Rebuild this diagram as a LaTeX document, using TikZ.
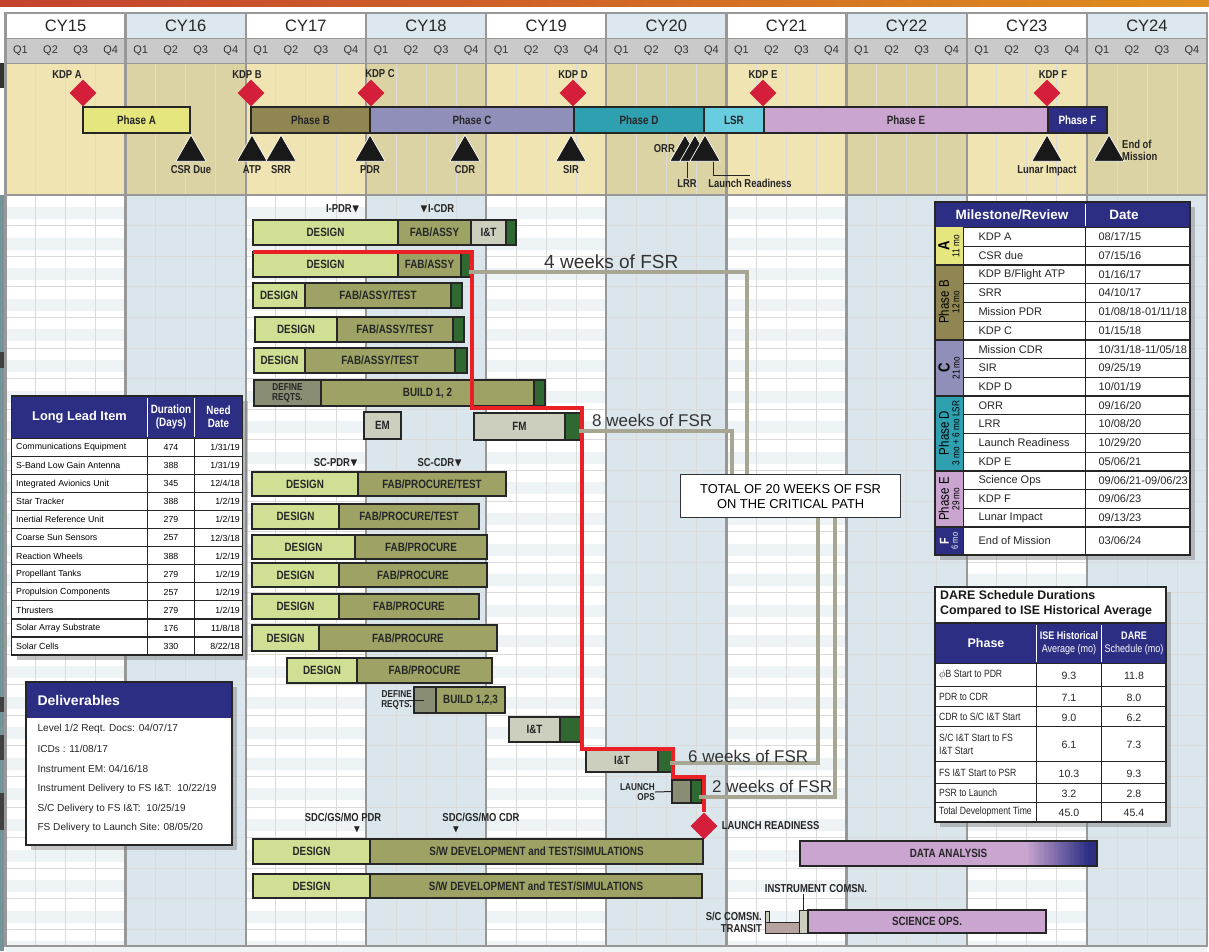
\documentclass[tikz,border=0pt]{standalone}
\usepackage{amssymb}
\usepackage{fontspec}
\setmainfont{Liberation Sans}
\newfontfamily\condfont{Liberation Sans}[FakeStretch=0.82]
\usetikzlibrary{positioning,shapes.geometric,shadows}

\definecolor{navyc}{RGB}{43,46,131}
\definecolor{designc}{RGB}{207,224,148}
\definecolor{fabc}{RGB}{158,162,101}
\definecolor{greenc}{RGB}{47,104,49}
\definecolor{itc}{RGB}{204,206,190}
\definecolor{defc}{RGB}{136,141,116}
\definecolor{lilac}{RGB}{201,165,207}
\definecolor{phasea}{RGB}{229,231,126}
\definecolor{phaseb}{RGB}{143,134,82}
\definecolor{phasec}{RGB}{143,143,185}
\definecolor{phased}{RGB}{46,160,176}
\definecolor{lsrc}{RGB}{104,205,222}
\definecolor{kdpred}{RGB}{212,30,58}
\definecolor{critred}{RGB}{234,32,39}
\definecolor{fsrgray}{RGB}{166,166,147}
\definecolor{yellowlt}{RGB}{240,228,178}
\definecolor{yellowdk}{RGB}{219,211,163}
\definecolor{bluebg}{RGB}{218,229,236}
\definecolor{yearblue}{RGB}{221,231,238}
\definecolor{qgray}{RGB}{202,202,202}
\definecolor{framegray}{RGB}{152,152,152}
\definecolor{transitc}{RGB}{182,162,159}
\definecolor{stripc}{RGB}{116,148,154}
\definecolor{ruleL}{RGB}{196,66,46}
\definecolor{ruleR}{RGB}{222,142,30}

\newcommand\barfont{\condfont\bfseries\fontsize{12}{13}\selectfont}
\newcommand\smallbar{\condfont\bfseries\fontsize{10}{10.5}\selectfont}
\newcommand\tagfont{\condfont\bfseries\fontsize{11.5}{12}\selectfont}
\newcommand\yearfont{\fontsize{16.5}{18}\selectfont}
\newcommand\qfont{\fontsize{11}{12}\selectfont}
\newcommand\cellfont{\fontsize{8.8}{10}\selectfont}
\newcommand\msfont{\fontsize{11}{12}\selectfont}
\newcommand\dlvfont{\fontsize{10.1}{11}\selectfont}
\newcommand\darefont{\condfont\fontsize{10.5}{12.5}\selectfont}

\begin{document}
\begin{tikzpicture}[x=1pt,y=-1pt,
  bar/.style={draw=black!85,line width=1.3pt,inner sep=0pt,outer sep=0pt,
    minimum height=25pt,font=\barfont,text=black!85},
  design/.style={bar,fill=designc,anchor=north west},
  fab/.style={bar,fill=fabc},
  grn/.style={bar,fill=greenc},
  itb/.style={bar,fill=itc},
  defb/.style={bar,fill=defc},
  phase/.style={bar,anchor=north west,minimum height=26pt},
  kdp/.style={diamond,fill=kdpred,minimum size=27pt,inner sep=0pt},
  rev/.style={regular polygon,regular polygon sides=3,fill=black!90,
    draw=white,line width=.7pt,minimum size=35pt,inner sep=0pt},
  tag/.style={font=\tagfont,text=black!85,inner sep=1pt},
  qline/.style={draw=black!14,line width=.8pt},
  yline/.style={draw=framegray,line width=2.4pt},
  tabline/.style={draw=black!85,line width=1.2pt},
  fsr/.style={draw=fsrgray,line width=4pt},
  crit/.style={draw=critred,line width=4pt},
  weeks/.style={font=\fontsize{17}{18}\selectfont,text=black!80,inner sep=0pt,anchor=west},
  cell/.style={font=\cellfont,inner sep=0pt},
  shadowed/.style={fill=white,drop shadow={shadow xshift=5pt,shadow yshift=-5pt,opacity=.45}}
]
\useasboundingbox (0,0) rectangle (1209,951);

% top rule
\shade[left color=ruleL,right color=ruleR] (0,0) rectangle (1209,6);

% calendar
\fill[qgray] (5.5,38) rectangle (1207,63);
\foreach \i [evaluate=\i as \xa using 5.5+120.15*\i] in {0,...,9}{
  \ifodd\i
    \fill[yearblue] (\xa,13) rectangle ++(120.15,25);
    \fill[yellowdk] (\xa,63) rectangle ++(120.15,132);
    \fill[bluebg] (\xa,195) rectangle ++(120.15,751);
  \else
    \fill[white] (\xa,13) rectangle ++(120.15,25);
    \fill[yellowlt] (\xa,63) rectangle ++(120.15,132);
    \fill[white] (\xa,195) rectangle ++(120.15,751);
  \fi
  \node[font=\yearfont,text=black!85] (cy\i) at (\xa+60.07,25.5) {CY\the\numexpr15+\i\relax};
  \foreach \q in {1,...,4}
    \node[font=\qfont,text=black!80] (q\i-\q) at (\xa+30.04*\q-15.02,50.5) {Q\q};
}
\foreach \r in {0,...,24}
  \fill[bluebg,opacity=.45] (5.5,207+30.6*\r) rectangle (1207,219+30.6*\r);
\foreach \k in {1,...,39}
  \draw[qline] (5.5+30.0375*\k,63) -- ++(0,883);
\foreach \r in {1,...,24}
  \draw[qline] (5.5,195+30.6*\r) -- ++(1201.5,0);
\foreach \i in {1,...,9}
  \draw[yline] (5.5+120.15*\i,13) -- ++(0,933);
\draw[framegray,line width=.8pt] (5.5,38) -- (1207,38) (5.5,63) -- (1207,63);
\draw[yline] (5.5,195) -- (1207,195);
\draw[yline] (5.5,13) rectangle (1207,946);

% left edge
\fill[stripc] (0,195) rectangle (4,951);
\fill[black!80] (0,63) rectangle (4,88);
\foreach \a/\b in {352/368,697/712,735/760,793/830}
  \fill[black!75] (0,\a) rectangle (4,\b);

% phases
\node[phase,fill=phasea,minimum width=107pt] (pha) at (83,107) {Phase A};
\node[phase,fill=phaseb,minimum width=119pt] (phb) at (251,107) {Phase B};
\node[phase,fill=phasec,minimum width=204pt,right=0pt of phb] (phc) {Phase C};
\node[phase,fill=phased,minimum width=130pt,right=0pt of phc] (phd) {Phase D};
\node[phase,fill=lsrc,minimum width=60pt,right=0pt of phd] (lsr) {LSR};
\node[phase,fill=lilac,minimum width=284pt,right=0pt of lsr] (phe) {Phase E};
\node[phase,fill=navyc,text=white,minimum width=59pt,right=0pt of phe] (phf) {Phase F};

% key decision points
\foreach \n/\x/\dx in {A/83/-16,B/251/-4,C/371/9,D/573/0,E/763/0,F/1047/6}{
  \node[kdp] (kdp\n) at (\x,93) {};
  \node[tag,above=0pt of kdp\n,xshift=\dx] (kdpl\n) {KDP \n};
}

% reviews
\foreach \n/\x/\t in {csr/191/CSR Due,atp/252/ATP,srr/281/SRR,pdr/370/PDR,
    cdr/465/CDR,sir/571/SIR,lun/1047/Lunar Impact}{
  \node[rev] (t\n) at (\x,152.5) {};
  \node[tag,below=3pt of t\n] (l\n) {\t};
}
\node[rev] (torr) at (685,152.5) {};
\node[rev] (tlrr) at (695,152.5) {};
\node[rev] (tlr) at (705,152.5) {};
\node[tag,anchor=east] (lorr) at (676,149) {ORR};
\node[tag,anchor=north] (llrr) at (687,178) {LRR};
\node[tag,anchor=north] (llr) at (750,178) {Launch Readiness};
\draw[black!85,line width=1pt] (tlrr.south -| llrr.north) -- (llrr.north);
\draw[black!85,line width=1pt] ([xshift=8pt]tlr.south) |- ([yshift=3pt]llr.north);
\node[rev] (teom) at (1109,152.5) {};
\node[tag,align=left,anchor=west] (leom) at (1121,150) {End of\\Mission};

% instrument
\node[tag] (ipdr) at (343,209) {I-PDR$\blacktriangledown$};
\node[tag] (icdr) at (437,209) {$\blacktriangledown$I-CDR};
\node[design,minimum width=145pt] (i1d) at (253,220) {DESIGN};
\node[fab,minimum width=73pt,right=0pt of i1d] (i1f) {FAB/ASSY};
\node[itb,minimum width=35pt,right=0pt of i1f] (i1t) {I\&T};
\node[grn,minimum width=10pt,right=0pt of i1t] (i1g) {};
\node[design,minimum width=145pt] (i2d) at (253,252) {DESIGN};
\node[fab,minimum width=63pt,right=0pt of i2d] (i2f) {FAB/ASSY};
\node[grn,minimum width=11pt,right=0pt of i2f] (i2g) {};
\node[design,minimum width=52pt] (i3d) at (253,283) {DESIGN};
\node[fab,minimum width=146pt,right=0pt of i3d] (i3f) {FAB/ASSY/TEST};
\node[grn,minimum width=11pt,right=0pt of i3f] (i3g) {};
\node[design,minimum width=82pt] (i4d) at (255,317) {DESIGN};
\node[fab,minimum width=116pt,right=0pt of i4d] (i4f) {FAB/ASSY/TEST};
\node[grn,minimum width=11pt,right=0pt of i4f] (i4g) {};
\node[design,minimum width=51pt] (i5d) at (254,348) {DESIGN};
\node[fab,minimum width=150pt,right=0pt of i5d] (i5f) {FAB/ASSY/TEST};
\node[grn,minimum width=12pt,right=0pt of i5f] (i5g) {};
\node[defb,anchor=north west,minimum width=67pt,minimum height=26pt,
  font=\smallbar,align=center] (i6d) at (254,380) {DEFINE\\REQTS.};
\node[fab,minimum width=213pt,minimum height=26pt,right=0pt of i6d] (i6f) {BUILD 1, 2};
\node[grn,minimum width=11pt,minimum height=26pt,right=0pt of i6f] (i6g) {};
\node[itb,anchor=north west,minimum width=37pt,minimum height=27pt] (em) at (364,412) {EM};
\node[itb,anchor=north west,minimum width=91pt,minimum height=27pt] (fm) at (474,413) {FM};
\node[grn,minimum width=17pt,minimum height=27pt,right=0pt of fm] (fmg) {};

% spacecraft
\node[tag] (scpdr) at (336,463) {SC-PDR$\blacktriangledown$};
\node[tag] (sccdr) at (440,463) {SC-CDR$\blacktriangledown$};
\node[design,minimum width=106pt,minimum height=24pt] (s1d) at (252,472) {DESIGN};
\node[fab,minimum width=148pt,minimum height=24pt,right=0pt of s1d] (s1f) {FAB/PROCURE/TEST};
\node[design,minimum width=87pt] (s2d) at (252,504) {DESIGN};
\node[fab,minimum width=140pt,right=0pt of s2d] (s2f) {FAB/PROCURE/TEST};
\node[design,minimum width=103pt,minimum height=24pt] (s3d) at (252,535) {DESIGN};
\node[fab,minimum width=132pt,minimum height=24pt,right=0pt of s3d] (s3f) {FAB/PROCURE};
\node[design,minimum width=87pt,minimum height=24pt] (s4d) at (252,563) {DESIGN};
\node[fab,minimum width=148pt,minimum height=24pt,right=0pt of s4d] (s4f) {FAB/PROCURE};
\node[design,minimum width=87pt] (s5d) at (252,594) {DESIGN};
\node[fab,minimum width=140pt,right=0pt of s5d] (s5f) {FAB/PROCURE};
\node[design,minimum width=67pt,minimum height=26pt] (s6d) at (252,625) {DESIGN};
\node[fab,minimum width=178pt,minimum height=26pt,right=0pt of s6d] (s6f) {FAB/PROCURE};
\node[design,minimum width=70pt] (s7d) at (287,658) {DESIGN};
\node[fab,minimum width=135pt,right=0pt of s7d] (s7f) {FAB/PROCURE};
\node[defb,anchor=north west,minimum width=22pt,minimum height=26pt] (s8d) at (414,687) {};
\node[fab,minimum width=69pt,minimum height=26pt,right=0pt of s8d] (s8f) {BUILD 1,2,3};
\node[font=\smallbar,text=black!85,align=right,anchor=east,inner sep=0pt] (s8l) at (412,700) {DEFINE\\REQTS.};
\draw[black!85,line width=1pt] ([xshift=-6pt]s8d.west) -- ([xshift=10pt]s8d.west);
\node[itb,anchor=north west,minimum width=51pt] (it1) at (509,717) {I\&T};
\node[grn,minimum width=22pt,right=0pt of it1] (itg1) {};
\node[itb,anchor=north west,minimum width=72pt,minimum height=23pt] (it2) at (586,749) {I\&T};
\node[grn,minimum width=15pt,minimum height=23pt,right=0pt of it2] (itg2) {};
\node[defb,anchor=north west,minimum width=19pt,minimum height=23pt] (lop) at (672,780) {};
\node[grn,minimum width=11pt,minimum height=23pt,right=0pt of lop] (lopg) {};
\node[font=\smallbar,text=black!85,align=right,anchor=east,inner sep=0pt] (lopl) at (655,792) {LAUNCH\\OPS};
\draw[black!85,line width=1pt] (lopl.east) -- (lop.west);
\node[kdp] (lr) at (704,826) {};
\node[tag,right=3pt of lr] (lrl) {LAUNCH READINESS};

% ground segment
\node[tag] (gpdr) at (343,817) {SDC/GS/MO PDR};
\node[inner sep=0pt,text=black!85] (gpdrm) at (357,830) {$\blacktriangledown$};
\node[tag] (gcdr) at (481,817) {SDC/GS/MO CDR};
\node[inner sep=0pt,text=black!85] (gcdrm) at (456,830) {$\blacktriangledown$};
\node[design,minimum width=117pt] (g1d) at (253,839) {DESIGN};
\node[fab,minimum width=333pt,right=0pt of g1d] (g1f) {S/W DEVELOPMENT and TEST/SIMULATIONS};
\node[design,minimum width=117pt,minimum height=24pt] (g2d) at (253,874) {DESIGN};
\node[fab,minimum width=332pt,minimum height=24pt,right=0pt of g2d] (g2f) {S/W DEVELOPMENT and TEST/SIMULATIONS};

% operations
\node[bar,fill=lilac,anchor=north west,minimum width=297pt] (da) at (800,841) {DATA ANALYSIS};
\foreach \s in {0,...,25}
  \fill[lilac!\the\numexpr100-4*\s\relax!navyc] (1025+2.5*\s,842) rectangle ++(2.6,23);
\fill[navyc] (1089.5,842) rectangle (1096.5,865);
\draw[black!85,line width=1.3pt] (da.north west) rectangle (da.south east);
\node[tag] (icl) at (816,889) {INSTRUMENT COMSN.};
\node[bar,fill=itc,anchor=north west,minimum width=4pt,minimum height=11pt,line width=1pt] (scc) at (765,911) {};
\node[bar,fill=transitc,anchor=north west,minimum width=34pt,minimum height=11pt,line width=1pt] (tr) at (765,922) {};
\node[bar,fill=itc,anchor=north west,minimum width=9pt,minimum height=23pt,line width=1pt] (ic) at (799,910) {};
\node[bar,fill=lilac,minimum width=238pt,minimum height=23pt,right=0pt of ic] (sops) {SCIENCE OPS.};
\node[tag,anchor=east] (sccl) at (763,916) {S/C COMSN.};
\node[tag,anchor=east] (trl) at (763,929) {TRANSIT};
\draw[black!85,line width=.8pt] (ic.north |- icl.south) -- (ic.north);

% critical path and FSR
\node[draw=black!80,line width=1.2pt,fill=white,align=center,anchor=north west,
  font=\fontsize{12.9}{15}\selectfont,minimum width=220pt,minimum height=43pt]
  (tot) at (680,474) {TOTAL OF 20 WEEKS OF FSR\\ON THE CRITICAL PATH};
\draw[crit] (i2d.north west) -- (i2g.north east) |- ([yshift=5pt]fmg.north east)
  |- (itg2.north east) |- ([yshift=3pt]lopg.north east) -| (lr.north);
\draw[fsr] ([xshift=-3pt,yshift=5pt]i2g.south east) -| ([xshift=67pt]tot.north west);
\draw[fsr] ([xshift=-3pt,yshift=9pt]fmg.south east) -| ([xshift=52pt]tot.north west);
\draw[fsr] ([xshift=-3pt,yshift=9pt]itg2.south east) -| ([xshift=138pt]tot.south west);
\draw[fsr] ([xshift=-3pt,yshift=6pt]lopg.south east) -| ([xshift=155pt]tot.south west);
\node[weeks,font=\fontsize{19}{20}\selectfont] (w4) at (544,262) {4 weeks of FSR};
\node[weeks] (w8) at (592,420) {8 weeks of FSR};
\node[weeks] (w6) at (688,756) {6 weeks of FSR};
\node[weeks] (w2) at (712,786) {2 weeks of FSR};

% long lead items
\path[shadowed] (11.7,396) rectangle (242.7,655);
\fill[navyc] (11.7,396) rectangle (242.7,438.3);
\draw[white,line width=1pt] (147.3,398) -- (147.3,437) (194.3,398) -- (194.3,437);
\node[text=white,font=\bfseries\fontsize{12.8}{14}\selectfont] (llh) at (79.5,417) {Long Lead Item};
\node[text=white,align=center,font=\barfont] (lldh) at (171,417) {Duration\\(Days)};
\node[text=white,align=center,font=\barfont] (llnh) at (218.5,417) {Need\\Date};
\foreach \k/\itm/\dur/\nd in {0/Communications Equipment/474/{1/31/19},
    1/S-Band Low Gain Antenna/388/{1/31/19}, 2/Integrated Avionics Unit/345/{12/4/18},
    3/Star Tracker/388/{1/2/19}, 4/Inertial Reference Unit/279/{1/2/19},
    5/Coarse Sun Sensors/257/{12/3/18}, 6/Reaction Wheels/388/{1/2/19},
    7/Propellant Tanks/279/{1/2/19}, 8/Propulsion Components/257/{1/2/19},
    9/Thrusters/279/{1/2/19}, 10/Solar Array Substrate/176/{11/8/18},
    11/Solar Cells/330/{8/22/18}}{
  \node[cell,anchor=west] (ll\k) at (16,447.6+18.06*\k) {\itm};
  \node[cell] (lld\k) at (171,447.6+18.06*\k) {\dur};
  \node[cell,anchor=east] (lln\k) at (240,447.6+18.06*\k) {\nd};
  \draw[tabline] (11.7,438.3+18.06*\k) -- (242.7,438.3+18.06*\k);
}
\draw[tabline] (147.3,438.3) -- (147.3,655) (194.3,438.3) -- (194.3,655);
\draw[tabline] (11.7,396) rectangle (242.7,655);

% deliverables
\path[shadowed] (26,682) rectangle (232,845);
\fill[navyc] (26,682) rectangle (232,718);
\node[text=white,anchor=west,font=\bfseries\fontsize{14}{15}\selectfont] (dlvh) at (34,700) {Deliverables};
\foreach \k/\txt in {0/{Level 1/2 Reqt. Docs: 04/07/17}, 1/{ICDs : 11/08/17},
    2/{Instrument EM: 04/16/18}, 3/{Instrument Delivery to FS I\&T:\ \ 10/22/19},
    4/{S/C Delivery to FS I\&T:\ \ 10/25/19}, 5/{FS Delivery to Launch Site: 08/05/20}}
  \node[anchor=west,font=\dlvfont,text=black!85] (dlv\k) at (34,729.3+19.8*\k) {\txt};
\draw[black!85,line width=1.2pt] (26,682) rectangle (232,845);

% milestone table
\path[shadowed] (935,202) rectangle (1190,555);
\fill[navyc] (935,202) rectangle (1190,227.3);
\draw[white,line width=1pt] (1085.7,204) -- (1085.7,225.5);
\node[text=white,font=\bfseries\fontsize{13.5}{14}\selectfont] (msh) at (1012,214.5) {Milestone/Review};
\node[text=white,font=\bfseries\fontsize{13.5}{14}\selectfont] (mdh) at (1124,214.5) {Date};
\fill[phasea] (935,227.3) rectangle (963.3,264.8);
\fill[phaseb] (935,264.8) rectangle (963.3,339.7);
\fill[phasec] (935,339.7) rectangle (963.3,395.9);
\fill[phased] (935,395.9) rectangle (963.3,470.8);
\fill[lilac] (935,470.8) rectangle (963.3,527);
\fill[navyc] (935,527) rectangle (963.3,555);
\foreach \k/\m/\d in {0/KDP A/{08/17/15}, 1/CSR due/{07/15/16},
    2/{KDP B/Flight ATP}/{01/16/17}, 3/SRR/{04/10/17},
    4/Mission PDR/{01/08/18-01/11/18}, 5/KDP C/{01/15/18},
    6/Mission CDR/{10/31/18-11/05/18}, 7/SIR/{09/25/19}, 8/KDP D/{10/01/19},
    9/ORR/{09/16/20}, 10/LRR/{10/08/20}, 11/Launch Readiness/{10/29/20},
    12/KDP E/{05/06/21}, 13/Science Ops/{09/06/21-09/06/23},
    14/KDP F/{09/06/23}, 15/Lunar Impact/{09/13/23}}{
  \node[font=\msfont,text=black!85,anchor=west] (ms\k) at (975,236.7+18.73*\k) {\m};
  \node[font=\msfont,text=black!85,anchor=west] (md\k) at (1095,236.7+18.73*\k) {\d};
  \draw[black!85,line width=.9pt] (963.3,227.3+18.73*\k) -- (1190,227.3+18.73*\k);
}
\node[font=\msfont,text=black!85,anchor=west] (ms16) at (975,541) {End of Mission};
\node[font=\msfont,text=black!85,anchor=west] (md16) at (1095,541) {03/06/24};
\foreach \y in {264.8,339.7,395.9,470.8,527}
  \draw[black!85,line width=2.4pt] (935,\y) -- (1190,\y);
\draw[tabline] (963.3,227.3) -- (963.3,555) (1085.7,227.3) -- (1085.7,555);
\node[rotate=90,align=center,font=\condfont\fontsize{10}{10}\selectfont] (gA) at (949,246)
  {{\bfseries\fontsize{16}{14}\selectfont A}\\11 mo};
\node[rotate=90,align=center,font=\condfont\fontsize{10}{10.5}\selectfont] (gB) at (949,302)
  {{\fontsize{14}{13}\selectfont Phase B}\\12 mo};
\node[rotate=90,align=center,font=\condfont\fontsize{10}{10}\selectfont] (gC) at (949,368)
  {{\bfseries\fontsize{16}{14}\selectfont C}\\21 mo};
\begin{scope}
  \clip (935,395.9) rectangle (963.3,470.8);
  \node[rotate=90,align=center,font=\condfont\fontsize{10}{10.5}\selectfont] (gD) at (949,433)
    {{\fontsize{14}{13}\selectfont Phase D}\\3 mo + 6 mo LSR};
\end{scope}
\node[rotate=90,align=center,font=\condfont\fontsize{10}{10.5}\selectfont] (gE) at (949,499)
  {{\fontsize{14}{13}\selectfont Phase E}\\29 mo};
\node[rotate=90,align=center,text=white,font=\condfont\fontsize{9}{9}\selectfont] (gF) at (949,541)
  {{\bfseries\fontsize{13}{11}\selectfont F}\\6 mo};
\draw[black!85,line width=2pt] (935,202) rectangle (1190,555);

% DARE durations
\path[shadowed] (935,587) rectangle (1166,822);
\node[anchor=north west,align=left,inner sep=0pt,text=black!90,
  font=\bfseries\fontsize{12.4}{15.5}\selectfont] (dtt) at (940,590)
  {DARE Schedule Durations\\Compared to ISE Historical Average};
\fill[navyc] (935,623) rectangle (1166,663.3);
\draw[white,line width=1pt] (1036.7,625) -- (1036.7,662) (1101.7,625) -- (1101.7,662);
\node[text=white,font=\bfseries\fontsize{12.5}{13}\selectfont] (dh1) at (986,643) {Phase};
\node[text=white,align=center,font=\condfont\fontsize{11}{13}\selectfont] (dh2) at (1069,643)
  {\textbf{ISE Historical}\\Average (mo)};
\node[text=white,align=center,font=\condfont\fontsize{11}{13}\selectfont] (dh3) at (1134,643)
  {\textbf{DARE}\\Schedule (mo)};
\foreach \t/\b/\p/\h/\s [count=\n] in {663.3/686.7/{$\phi$B Start to PDR}/9.3/11.8,
    686.7/706.7/PDR to CDR/7.1/8.0, 706.7/726.7/{CDR to S/C I\&T Start}/9.0/6.2,
    726.7/761.7/{S/C I\&T Start to FS\\I\&T Start}/6.1/7.3,
    761.7/783.3/{FS I\&T Start to PSR}/10.3/9.3, 783.3/802.7/PSR to Launch/3.2/2.8,
    802.7/821.7/Total Development Time/45.0/45.4}{
  \pgfmathsetmacro\ym{(\t+\b)/2}
  \node[font=\darefont,text=black!85,anchor=west,align=left,inner sep=0pt] (dp\n) at (939,\ym) {\p};
  \node[font=\fontsize{10.6}{12}\selectfont,text=black!85] (di\n) at (1069,\ym+1) {\h};
  \node[font=\fontsize{10.6}{12}\selectfont,text=black!85] (ds\n) at (1134,\ym+1) {\s};
  \draw[black!85,line width=.9pt] (935,\t) -- (1166,\t);
}
\draw[tabline] (1036.7,663.3) -- (1036.7,821.7) (1101.7,663.3) -- (1101.7,821.7);
\draw[tabline] (935,623) -- (1166,623);
\draw[black!85,line width=2pt] (935,587) rectangle (1166,822);
\end{tikzpicture}
\end{document}
